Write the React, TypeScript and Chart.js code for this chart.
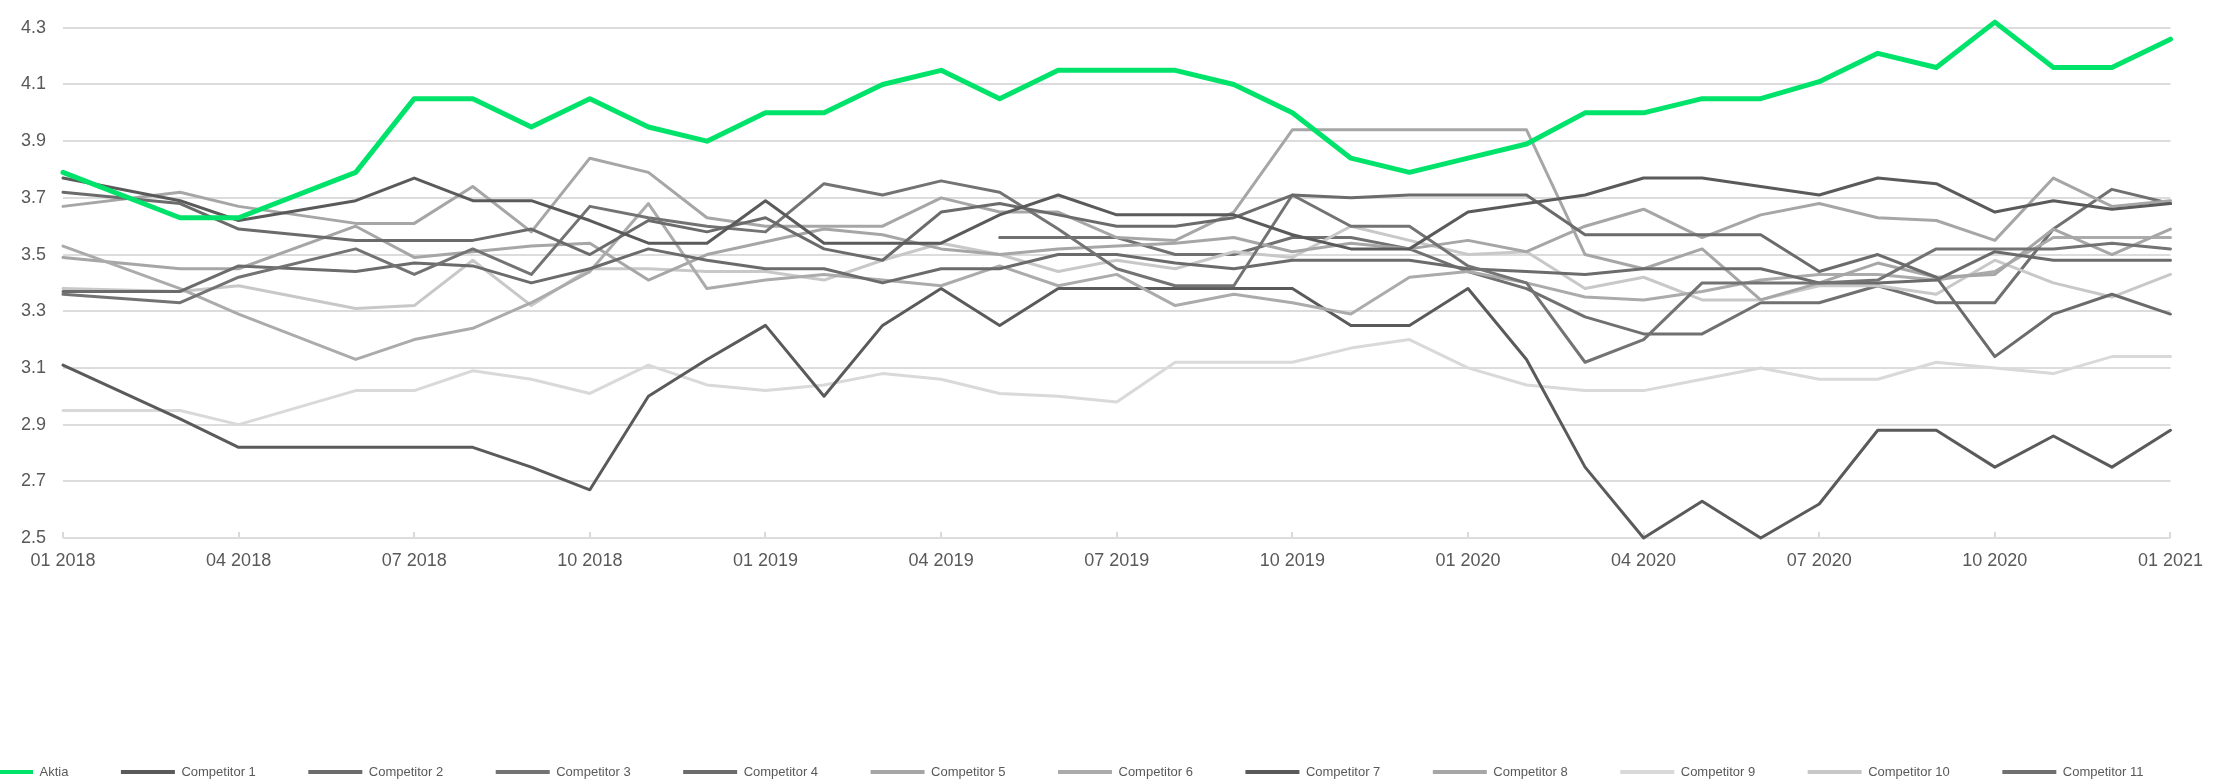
import React, { useEffect, useRef } from "react";
import { Chart, registerables } from "chart.js";

Chart.register(...registerables);

// ---- Data ----
const months = [
  "01 2018", "02 2018", "03 2018", "04 2018", "05 2018", "06 2018", "07 2018", "08 2018", "09 2018", "10 2018",
  "11 2018", "12 2018", "01 2019", "02 2019", "03 2019", "04 2019", "05 2019", "06 2019", "07 2019", "08 2019",
  "09 2019", "10 2019", "11 2019", "12 2019", "01 2020", "02 2020", "03 2020", "04 2020", "05 2020", "06 2020",
  "07 2020", "08 2020", "09 2020", "10 2020", "11 2020", "12 2020", "01 2021",
];

const yTicks = [2.5, 2.7, 2.9, 3.1, 3.3, 3.5, 3.7, 3.9, 4.1, 4.3];

const aktia = [
  3.79, null, 3.63, 3.63, null, 3.79, 4.05, 4.05, 3.95, 4.05,
  3.95, 3.90, 4.00, 4.00, 4.10, 4.15, 4.05, 4.15, 4.15, 4.15,
  4.10, 4.00, 3.84, 3.79, 3.84, 3.89, 4.00, 4.00, 4.05, 4.05,
  4.11, 4.21, 4.16, 4.32, 4.16, 4.16, 4.26,
];
const competitor1 = [
  3.77, null, 3.69, 3.62, null, 3.69, 3.77, 3.69, 3.69, 3.62,
  3.54, 3.54, 3.69, 3.54, 3.54, 3.54, 3.64, 3.71, 3.64, 3.64,
  3.64, 3.57, 3.52, 3.52, 3.65, 3.68, 3.71, 3.77, 3.77, 3.74,
  3.71, 3.77, 3.75, 3.65, 3.69, 3.66, 3.68,
];
const competitor2 = [
  3.72, null, 3.68, 3.59, null, 3.55, 3.55, 3.55, 3.59, 3.50,
  3.62, 3.58, 3.63, 3.52, 3.48, 3.65, 3.68, 3.64, 3.60, 3.60,
  3.63, 3.71, 3.70, 3.71, 3.71, 3.71, 3.57, 3.57, 3.57, 3.57,
  3.44, 3.50, 3.42, 3.14, 3.29, 3.36, 3.29,
];
const competitor3 = [
  3.36, null, 3.33, 3.42, null, 3.52, 3.43, 3.52, 3.43, 3.67,
  3.63, 3.60, 3.58, 3.75, 3.71, 3.76, 3.72, 3.59, 3.45, 3.39,
  3.39, 3.71, 3.60, 3.60, 3.46, 3.40, 3.12, 3.20, 3.40, 3.40,
  3.40, 3.41, 3.52, 3.52, 3.52, 3.54, 3.52,
];
const competitor4 = [
  3.37, null, 3.37, 3.46, null, 3.44, 3.47, 3.46, 3.40, 3.45,
  3.52, 3.48, 3.45, 3.45, 3.40, 3.45, 3.45, 3.50, 3.50, 3.47,
  3.45, 3.48, 3.48, 3.48, 3.45, 3.44, 3.43, 3.45, 3.45, 3.45,
  3.40, 3.40, 3.41, 3.51, 3.48, 3.48, 3.48,
];
const competitor5 = [
  3.67, null, 3.72, 3.67, null, 3.61, 3.61, 3.74, 3.58, 3.84,
  3.79, 3.63, 3.60, 3.60, 3.60, 3.70, 3.65, 3.65, 3.56, 3.55,
  3.65, 3.94, 3.94, 3.94, 3.94, 3.94, 3.50, 3.45, 3.52, 3.34,
  3.40, 3.47, 3.42, 3.43, 3.59, 3.50, 3.59,
];
const competitor6 = [
  3.53, null, 3.38, 3.29, null, 3.13, 3.20, 3.24, 3.33, 3.44,
  3.68, 3.38, 3.41, 3.43, 3.41, 3.39, 3.46, 3.39, 3.43, 3.32,
  3.36, 3.33, 3.29, 3.42, 3.44, 3.40, 3.35, 3.34, 3.37, 3.41,
  3.43, 3.43, 3.41, 3.44, 3.56, 3.56, 3.56,
];
const competitor7 = [
  3.11, null, 2.92, 2.82, null, 2.82, 2.82, 2.82, 2.75, 2.67,
  3.00, 3.13, 3.25, 3.00, 3.25, 3.38, 3.25, 3.38, 3.38, 3.38,
  3.38, 3.38, 3.25, 3.25, 3.38, 3.13, 2.75, 2.50, 2.63, 2.50,
  2.62, 2.88, 2.88, 2.75, 2.86, 2.75, 2.88,
];
const competitor8 = [
  3.49, null, 3.45, 3.45, null, 3.60, 3.49, 3.51, 3.53, 3.54,
  3.41, 3.50, 3.545, 3.59, 3.57, 3.52, 3.50, 3.52, 3.53, 3.54,
  3.56, 3.51, 3.54, 3.52, 3.55, 3.51, 3.60, 3.66, 3.56, 3.64,
  3.68, 3.63, 3.62, 3.55, 3.77, 3.67, 3.69,
];
const competitor9 = [
  2.95, null, 2.95, 2.90, null, 3.02, 3.02, 3.09, 3.06, 3.01,
  3.11, 3.04, 3.02, 3.04, 3.08, 3.06, 3.01, 3.00, 2.98, 3.12,
  3.12, 3.12, 3.17, 3.20, 3.10, 3.04, 3.02, 3.02, 3.06, 3.10,
  3.06, 3.06, 3.12, 3.10, 3.08, 3.14, 3.14,
];
const competitor10 = [
  3.38, null, 3.37, 3.39, null, 3.31, 3.32, 3.48, 3.32, 3.45,
  3.45, 3.44, 3.44, 3.41, 3.48, 3.54, 3.50, 3.44, 3.48, 3.45,
  3.51, 3.49, 3.60, 3.55, 3.50, 3.51, 3.38, 3.42, 3.34, 3.34,
  3.39, 3.39, 3.36, 3.48, 3.40, 3.35, 3.43,
];
const competitor11 = [
  null, null, null, null, null, null, null, null, null, null,
  null, null, null, null, null, null, 3.56, 3.56, 3.56, 3.50,
  3.50, 3.56, 3.56, 3.52, 3.44, 3.38, 3.28, 3.22, 3.22, 3.33,
  3.33, 3.39, 3.33, 3.33, 3.59, 3.73, 3.68,
];

const seriesNames = [
  "Aktia", "Competitor 1", "Competitor 2", "Competitor 3", "Competitor 4", "Competitor 5",
  "Competitor 6", "Competitor 7", "Competitor 8", "Competitor 9", "Competitor 10", "Competitor 11",
];
const seriesValues = [
  aktia, competitor1, competitor2, competitor3, competitor4, competitor5,
  competitor6, competitor7, competitor8, competitor9, competitor10, competitor11,
];
const seriesColors = [
  "#00e36a", "#5a5a5a", "#6b6b6b", "#737373", "#6b6b6b", "#a6a6a6",
  "#ababab", "#5a5a5a", "#a6a6a6", "#d9d9d9", "#c8c8c8", "#707070",
];

const W = 2221;
const H = 781;
const FONT = '"Liberation Sans", Arial, sans-serif';
const TEXT = "#595959";

const legendPlugin = {
  id: "rowLegend",
  afterDraw(chart: any) {
    const ctx = chart.ctx;
    ctx.save();
    ctx.font = `13px ${FONT}`;
    const box = 54;
    const gap = 6.5;
    const pad = 52.5;
    const items = chart.data.datasets.map((ds: any) => {
      const tw = ctx.measureText(ds.label).width;
      return { label: ds.label, color: ds.borderColor, tw, w: box + gap + tw + pad };
    });
    const total = items.reduce((a: number, it: any) => a + it.w, 0);
    const areaW = chart.width - 46;
    let x = (areaW - total) / 2;
    const y = 772;
    ctx.textBaseline = "middle";
    ctx.textAlign = "left";
    for (const it of items) {
      ctx.strokeStyle = it.color;
      ctx.lineWidth = 4;
      ctx.lineCap = "butt";
      ctx.beginPath();
      ctx.moveTo(x, y);
      ctx.lineTo(x + box, y);
      ctx.stroke();
      ctx.fillStyle = TEXT;
      ctx.fillText(it.label, x + box + gap, y);
      x += it.w;
    }
    ctx.restore();
  },
};

export default function App() {
  const ref = useRef<HTMLCanvasElement | null>(null);

  useEffect(() => {
    document.body.style.margin = "0";
    document.body.style.overflow = "hidden";
    if (!ref.current) return;
    const chart = new Chart(ref.current, {
      type: "line",
      data: {
        labels: months,
        datasets: seriesNames.map((name, i) => ({
          label: name,
          data: seriesValues[i],
          borderColor: seriesColors[i],
          backgroundColor: seriesColors[i],
          borderWidth: i === 0 ? 5 : 3,
          pointRadius: 0,
          pointHoverRadius: 0,
          tension: 0,
          spanGaps: true,
          clip: false as const,
          borderJoinStyle: "round" as const,
          borderCapStyle: "round" as const,
          fill: false,
        })),
      },
      options: {
        responsive: false,
        animation: false,
        devicePixelRatio: 1,
        layout: { padding: { top: 15, right: 46, left: 0, bottom: 0 } },
        plugins: {
          legend: { display: false },
          tooltip: { enabled: false },
        },
        scales: {
          x: {
            type: "category",
            offset: false,
            border: { display: false },
            grid: {
              display: true,
              drawOnChartArea: false,
              drawTicks: true,
              tickLength: -6,
              color: "#d9d9d9",
              lineWidth: 2,
            },
            ticks: {
              autoSkip: false,
              maxRotation: 0,
              minRotation: 0,
              padding: 18,
              color: TEXT,
              font: { family: FONT, size: 18 },
              callback: (_v: any, index: number) => (index % 3 === 0 ? months[index] : null),
            },
            afterFit: (s: any) => {
              s.height = 243;
            },
          },
          y: {
            min: 2.5,
            max: 4.3,
            border: { display: false },
            grid: { color: "#dcdcdc", lineWidth: 2, drawTicks: false },
            afterBuildTicks: (s: any) => {
              s.ticks = yTicks.map((v) => ({ value: v }));
            },
            ticks: {
              padding: 17,
              color: TEXT,
              font: { family: FONT, size: 18 },
              callback: (v: any) => Number(v).toFixed(1),
            },
            afterFit: (s: any) => {
              s.width = 63;
            },
          },
        },
      },
      plugins: [legendPlugin],
    });
    return () => chart.destroy();
  }, []);

  return (
    <div style={{ width: W, height: H, position: "relative" }}>
      <canvas ref={ref} width={W} height={H} style={{ display: "block", width: W, height: H }} />
    </div>
  );
}
